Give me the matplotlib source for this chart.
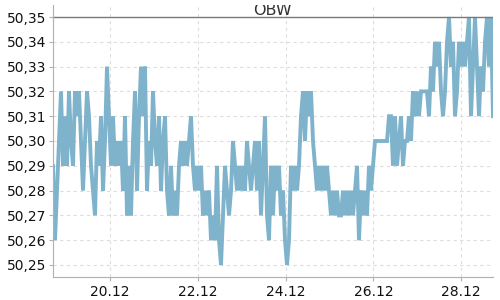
import matplotlib
matplotlib.use('Agg')
import matplotlib.pyplot as plt
import matplotlib.dates as mdates
from matplotlib.ticker import FuncFormatter
from matplotlib.transforms import Bbox
import pandas as pd

# Serie OBW (precio), muestras equiespaciadas entre inicio y fin
titulo = 'OBW'
inicio = '2023-12-18 16:55'
fin = '2023-12-28 17:25'
precios = [
    50.29, 50.26, 50.28, 50.30, 50.32, 50.29, 50.31, 50.29, 50.32, 50.30,
    50.29, 50.32, 50.31, 50.32, 50.30, 50.28, 50.30, 50.32, 50.31, 50.29,
    50.28, 50.27, 50.30, 50.29, 50.31, 50.28, 50.30, 50.33, 50.31, 50.29,
    50.31, 50.29, 50.30, 50.29, 50.30, 50.28, 50.31,
    50.27, 50.29, 50.27, 50.30, 50.32, 50.28, 50.31, 50.33, 50.31, 50.33,
    50.28, 50.30, 50.29, 50.32, 50.30, 50.29, 50.31, 50.28, 50.30, 50.31,
    50.28, 50.27, 50.29, 50.27, 50.28, 50.27, 50.29, 50.30, 50.29, 50.30,
    50.29, 50.30, 50.31, 50.29, 50.28, 50.29, 50.28,
    50.29, 50.27, 50.28, 50.27, 50.28, 50.26, 50.27, 50.26, 50.29, 50.26,
    50.25, 50.27, 50.29, 50.28, 50.27, 50.28, 50.30, 50.29, 50.28, 50.29,
    50.28, 50.29, 50.28, 50.30, 50.29, 50.28, 50.29, 50.30, 50.28, 50.30,
    50.27, 50.29, 50.31, 50.27, 50.26, 50.29, 50.27,
    50.29, 50.28, 50.29, 50.27, 50.28, 50.26, 50.25, 50.26, 50.29, 50.28,
    50.29, 50.28, 50.29, 50.31, 50.32, 50.30, 50.32, 50.31, 50.32, 50.30,
    50.29, 50.28, 50.29, 50.28, 50.29, 50.28, 50.29, 50.28, 50.27, 50.28,
    50.27, 50.28, 50.27, 50.27, 50.28, 50.27, 50.28, 50.27,
    50.28, 50.27, 50.28, 50.29, 50.26, 50.28, 50.27, 50.28, 50.27, 50.29,
    50.28, 50.29, 50.30, 50.30, 50.30, 50.30, 50.30, 50.30, 50.30, 50.31,
    50.31, 50.29, 50.31, 50.29, 50.30, 50.31, 50.29, 50.30, 50.30, 50.31,
    50.30, 50.32, 50.31, 50.32, 50.31, 50.32, 50.32,
    50.32, 50.32, 50.31, 50.33, 50.32, 50.34, 50.33, 50.34, 50.32, 50.31,
    50.32, 50.34, 50.35, 50.33, 50.34, 50.31, 50.32, 50.34, 50.33, 50.34,
    50.33, 50.34, 50.35, 50.31, 50.33, 50.35, 50.33, 50.31, 50.33, 50.32,
    50.34, 50.35, 50.33, 50.35, 50.31,
]
referencia = 50.35
yticks = [50.25, 50.26, 50.27, 50.28, 50.29, 50.30, 50.31, 50.32, 50.33, 50.34, 50.35]
xticks = ['2023-12-20', '2023-12-22', '2023-12-24', '2023-12-26', '2023-12-28']

fechas = pd.date_range(inicio, fin, periods=len(precios))

fig = plt.figure(figsize=(5, 3), dpi=100)
ax = fig.add_axes([0.106, 0.077, 0.880, 0.906])

ax.plot(fechas, precios, color='#7fb3cc', linewidth=2.8, solid_joinstyle='miter')
ax.axhline(referencia, color='#7a7a7a', linewidth=1)

ax.set_xlim(fechas[0], fechas[-1])
ax.set_ylim(50.2452, 50.3548)
ax.set_yticks(yticks)
ax.yaxis.set_major_formatter(FuncFormatter(lambda v, p: f'{v:.2f}'.replace('.', ',')))
ax.set_xticks(pd.to_datetime(xticks))
ax.xaxis.set_major_formatter(mdates.DateFormatter('%d.%m'))

ax.grid(True, color='#dddddd', linestyle=(0, (3, 3)), linewidth=0.8)
ax.set_axisbelow(True)
for lado in ['top', 'right']:
    ax.spines[lado].set_visible(False)
for lado in ['left', 'bottom']:
    ax.spines[lado].set_color('#b0b0b0')
ax.tick_params(axis='y', length=3, color='#b0b0b0', pad=2, labelsize=10, labelcolor='#111111')
ax.tick_params(axis='x', length=3, color='#b0b0b0', pad=3, labelsize=10, labelcolor='#111111')

# titulo cortado por arriba como en el original
t = fig.text(0.546, 0.951, titulo, ha='center', va='baseline', fontsize=11.5, color='#333333')
t.set_clip_box(Bbox([[0, 0], [500, 295]]))
t.set_clip_on(True)

fig.savefig('out.png', dpi=100)
